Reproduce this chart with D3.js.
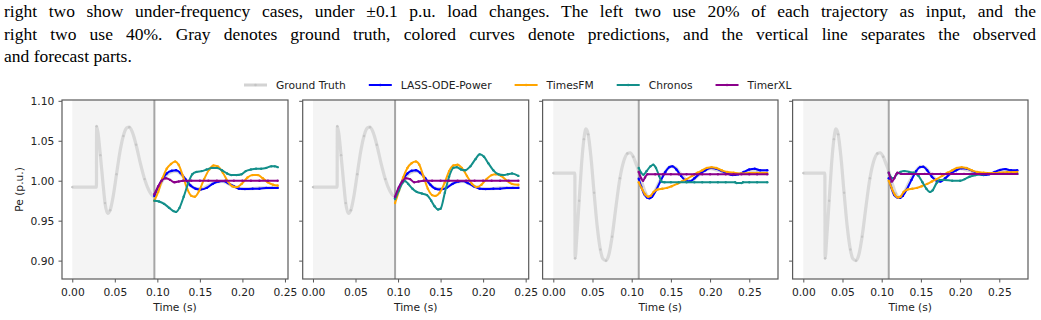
<!DOCTYPE html>
<html>
<head>
<meta charset="utf-8">
<script src="https://cdn.jsdelivr.net/npm/d3@7"></script>
<style>
body { margin: 0; background: #fff; }
svg { display: block; }
</style>
</head>
<body>
<script>
// caption text above the figure
var captionLines = [
	"right two show under-frequency cases, under \u00b10.1 p.u. load changes. The left two use 20% of each trajectory as input, and the",
	"right two use 40%. Gray denotes ground truth, colored curves denote predictions, and the vertical line separates the observed",
	"and forecast parts."
];

var seriesNames = ["Ground Truth", "LASS-ODE-Power", "TimesFM", "Chronos", "TimerXL"];
var seriesColors = ["#d3d3d3", "#0000ff", "#ffa500", "#138f8a", "#8b008b"];

var xTicks = [0.00, 0.05, 0.10, 0.15, 0.20, 0.25];
var yTicks = [0.90, 0.95, 1.00, 1.05, 1.10];

// observed / forecast split and last time of each panel
var splitTimes = [0.0965, 0.0965, 0.109, 0.109];
var endTimes = [0.2415, 0.2415, 0.273, 0.273];

// ground truth, over-frequency case (panels 1, 2)
var gtOver = [[0,0.992],[0.0284,0.992],[0.0286,1.068],[0.0305,1.058],[0.033,1.032],[0.036,0.998],[0.0385,0.972],
	[0.0415,0.959],[0.0445,0.963],[0.048,0.980],[0.052,1.008],[0.056,1.036],[0.060,1.056],[0.064,1.066],[0.067,1.067],
	[0.0705,1.061],[0.075,1.045],[0.080,1.022],[0.085,1.002],[0.090,0.988],[0.0965,0.980],[0.100,0.987],[0.105,0.998],
	[0.110,1.006],[0.116,1.011],[0.122,1.012],[0.128,1.008],[0.134,1.000],[0.140,0.993],[0.146,0.990],[0.152,0.990],
	[0.160,0.994],[0.168,0.998],[0.176,0.999],[0.184,0.996],[0.192,0.992],[0.200,0.990],[0.210,0.990],[0.220,0.991],
	[0.230,0.991],[0.2415,0.992]];

// ground truth, under-frequency case (panels 3, 4)
var gtUnder = [[0,1.0095],[0.0275,1.0095],[0.0278,0.903],[0.030,0.930],[0.033,0.975],[0.036,1.020],[0.039,1.052],
	[0.0417,1.065],[0.0445,1.058],[0.048,1.030],[0.052,0.985],[0.056,0.943],[0.060,0.914],[0.0635,0.902],[0.0672,0.900],
	[0.071,0.908],[0.075,0.930],[0.080,0.968],[0.085,1.003],[0.090,1.025],[0.0945,1.034],[0.098,1.035],[0.102,1.030],
	[0.106,1.020],[0.109,1.012],[0.113,0.998],[0.118,0.984],[0.1225,0.979],[0.128,0.984],[0.135,0.998],[0.142,1.010],
	[0.150,1.018],[0.156,1.016],[0.163,1.008],[0.170,1.001],[0.176,1.000],[0.184,1.006],[0.192,1.012],[0.200,1.015],
	[0.210,1.013],[0.220,1.010],[0.230,1.008],[0.240,1.009],[0.250,1.011],[0.260,1.012],[0.273,1.012]];

// panel 1
var lass1 = [[0.0965,0.981],[0.101,0.992],[0.106,1.002],[0.111,1.009],[0.117,1.0125],[0.122,1.013],[0.127,1.010],
	[0.133,1.002],[0.139,0.994],[0.145,0.990],[0.151,0.989],[0.158,0.991],[0.165,0.996],[0.172,0.999],[0.177,0.9995],
	[0.183,0.997],[0.190,0.993],[0.196,0.990],[0.203,0.9895],[0.212,0.990],[0.220,0.990],[0.228,0.991],[0.235,0.991],[0.2415,0.991]];
var timesfm1 = [[0.0965,0.975],[0.101,0.986],[0.106,1.003],[0.111,1.015],[0.116,1.021],[0.121,1.024],[0.125,1.020],
	[0.130,1.006],[0.135,0.990],[0.140,0.981],[0.144,0.980],[0.149,0.987],[0.155,1.002],[0.161,1.014],[0.166,1.019],
	[0.171,1.018],[0.177,1.010],[0.183,0.999],[0.188,0.993],[0.193,0.992],[0.199,0.996],[0.206,1.004],[0.212,1.007],
	[0.218,1.007],[0.224,1.003],[0.230,0.998],[0.236,0.995],[0.2415,0.994]];
var chronos1 = [[0.0965,0.975],[0.102,0.974],[0.108,0.971],[0.114,0.966],[0.119,0.962],[0.122,0.961],[0.126,0.966],
	[0.131,0.980],[0.136,0.996],[0.141,1.008],[0.146,1.011],[0.152,1.012],[0.158,1.014],[0.164,1.016],[0.170,1.016],
	[0.176,1.013],[0.182,1.009],[0.187,1.007],[0.193,1.007],[0.199,1.008],[0.204,1.012],[0.210,1.014],[0.216,1.015],
	[0.222,1.015],[0.228,1.016],[0.234,1.018],[0.238,1.018],[0.2415,1.017]];
var timerxl1 = [[0.0965,0.983],[0.101,0.993],[0.105,1.000],[0.110,1.003],[0.115,1.001],[0.120,0.998],[0.125,0.999],
	[0.130,1.000],[0.140,1.000],[0.150,1.000],[0.160,1.000],[0.170,1.000],[0.180,1.000],[0.190,1.000],[0.200,1.000],
	[0.210,1.000],[0.220,1.000],[0.230,1.000],[0.2415,1.000]];

// panel 2
var lass2 = [[0.0965,0.978],[0.101,0.991],[0.106,1.002],[0.111,1.009],[0.116,1.0125],[0.121,1.013],[0.126,1.010],
	[0.132,1.003],[0.138,0.995],[0.144,0.990],[0.150,0.989],[0.157,0.991],[0.164,0.996],[0.171,0.999],[0.176,0.9995],
	[0.182,0.997],[0.189,0.993],[0.196,0.990],[0.203,0.9895],[0.212,0.990],[0.220,0.990],[0.228,0.991],[0.235,0.991],[0.2415,0.991]];
var timesfm2 = [[0.0965,0.972],[0.101,0.987],[0.106,1.004],[0.111,1.016],[0.116,1.022],[0.121,1.024],[0.125,1.020],
	[0.130,1.005],[0.135,0.990],[0.140,0.982],[0.144,0.981],[0.149,0.985],[0.155,0.998],[0.160,1.012],[0.165,1.019],
	[0.170,1.020],[0.175,1.016],[0.181,1.006],[0.187,0.996],[0.192,0.992],[0.198,0.995],[0.204,1.002],[0.210,1.007],
	[0.215,1.008],[0.221,1.006],[0.228,1.000],[0.234,0.996],[0.2415,0.995]];
var chronos2 = [[0.0965,0.977],[0.101,0.988],[0.105,0.997],[0.108,0.9995],[0.112,0.996],[0.117,0.990],[0.122,0.986],
	[0.128,0.984],[0.134,0.982],[0.139,0.975],[0.143,0.968],[0.147,0.964],[0.150,0.965],[0.155,0.985],[0.160,1.005],
	[0.165,1.016],[0.169,1.017],[0.174,1.014],[0.179,1.013],[0.185,1.018],[0.191,1.027],[0.196,1.033],[0.201,1.030],
	[0.206,1.022],[0.212,1.013],[0.218,1.008],[0.224,1.007],[0.229,1.008],[0.234,1.009],[0.2415,1.006]];
var timerxl2 = [[0.0965,0.980],[0.101,0.992],[0.105,0.999],[0.109,1.003],[0.114,1.002],[0.119,0.998],[0.124,0.999],
	[0.130,1.000],[0.140,1.000],[0.150,1.000],[0.160,1.000],[0.170,1.000],[0.180,1.000],[0.190,1.000],[0.200,1.000],
	[0.210,1.000],[0.220,1.000],[0.230,1.000],[0.2415,1.000]];

// panel 3
var lass3 = [[0.109,1.0025],[0.112,0.993],[0.116,0.983],[0.1195,0.979],[0.1225,0.978],[0.126,0.980],[0.131,0.988],
	[0.137,1.000],[0.143,1.011],[0.148,1.017],[0.152,1.018],[0.157,1.014],[0.163,1.006],[0.169,1.000],[0.174,0.999],
	[0.180,1.003],[0.187,1.009],[0.194,1.013],[0.201,1.016],[0.208,1.015],[0.215,1.012],[0.222,1.009],[0.229,1.007],
	[0.236,1.008],[0.243,1.011],[0.250,1.014],[0.257,1.015],[0.264,1.013],[0.273,1.013]];
var timesfm3 = [[0.109,0.998],[0.113,0.990],[0.117,0.983],[0.121,0.980],[0.124,0.981],[0.128,0.986],[0.133,0.989],
	[0.139,0.990],[0.145,0.991],[0.151,0.993],[0.158,0.996],[0.164,0.999],[0.170,1.002],[0.177,1.006],[0.184,1.010],
	[0.190,1.013],[0.196,1.016],[0.202,1.017],[0.208,1.016],[0.215,1.013],[0.222,1.011],[0.230,1.010],[0.240,1.009],
	[0.250,1.0095],[0.260,1.0095],[0.273,1.0095]];
var chronos3 = [[0.109,1.016],[0.112,1.010],[0.115,1.0075],[0.119,1.012],[0.124,1.018],[0.1275,1.020],[0.131,1.016],
	[0.135,1.006],[0.138,0.999],[0.142,0.998],[0.150,0.998],[0.160,0.998],[0.170,0.998],[0.180,0.998],[0.190,0.998],
	[0.200,0.998],[0.210,0.998],[0.220,0.998],[0.232,0.998],[0.234,0.997],[0.240,0.997],[0.242,0.998],[0.250,0.998],
	[0.260,0.998],[0.273,0.998]];
var timerxl3 = [[0.109,1.011],[0.112,1.003],[0.1145,1.000],[0.117,1.004],[0.120,1.008],[0.130,1.008],[0.140,1.008],
	[0.150,1.008],[0.160,1.008],[0.170,1.008],[0.180,1.008],[0.190,1.008],[0.200,1.008],[0.210,1.008],[0.220,1.008],
	[0.230,1.008],[0.240,1.008],[0.250,1.008],[0.260,1.008],[0.273,1.008]];

// panel 4
var lass4 = [[0.109,1.003],[0.112,0.992],[0.116,0.982],[0.120,0.979],[0.1235,0.9785],[0.127,0.981],[0.132,0.989],
	[0.138,1.001],[0.144,1.012],[0.149,1.017],[0.153,1.0175],[0.158,1.013],[0.164,1.005],[0.170,1.000],[0.175,0.999],
	[0.181,1.003],[0.188,1.009],[0.195,1.013],[0.202,1.0155],[0.209,1.015],[0.216,1.012],[0.223,1.009],[0.230,1.007],
	[0.237,1.008],[0.244,1.011],[0.251,1.0135],[0.258,1.0145],[0.265,1.013],[0.273,1.013]];
var timesfm4 = [[0.109,1.000],[0.113,0.990],[0.117,0.982],[0.121,0.979],[0.124,0.980],[0.128,0.986],[0.133,0.989],
	[0.139,0.990],[0.145,0.991],[0.151,0.993],[0.158,0.996],[0.164,0.999],[0.170,1.002],[0.177,1.006],[0.184,1.010],
	[0.190,1.013],[0.196,1.016],[0.202,1.017],[0.208,1.016],[0.215,1.013],[0.222,1.011],[0.230,1.010],[0.240,1.0095],
	[0.250,1.010],[0.260,1.0105],[0.273,1.011]];
var chronos4 = [[0.109,1.010],[0.112,1.004],[0.115,1.003],[0.119,1.008],[0.124,1.011],[0.129,1.012],[0.135,1.011],
	[0.141,1.010],[0.147,1.006],[0.152,0.998],[0.157,0.990],[0.1615,0.986],[0.165,0.988],[0.170,0.997],[0.174,1.001],
	[0.180,1.001],[0.190,1.000],[0.200,1.000],[0.206,1.002],[0.212,1.005],[0.220,1.007],[0.230,1.008],[0.240,1.0085],
	[0.250,1.0085],[0.260,1.0085],[0.273,1.0085]];
var timerxl4 = [[0.109,1.010],[0.111,1.004],[0.113,0.999],[0.116,1.003],[0.120,1.010],[0.125,1.0085],[0.135,1.0085],
	[0.145,1.0085],[0.155,1.0085],[0.165,1.0085],[0.175,1.0085],[0.185,1.0085],[0.195,1.0085],[0.205,1.0085],
	[0.215,1.0085],[0.225,1.0085],[0.235,1.0085],[0.245,1.0085],[0.255,1.0085],[0.265,1.0085],[0.273,1.0085]];

var panels = [
	{ gt: gtOver, preds: [lass1, timesfm1, chronos1, timerxl1] },
	{ gt: gtOver, preds: [lass2, timesfm2, chronos2, timerxl2] },
	{ gt: gtUnder, preds: [lass3, timesfm3, chronos3, timerxl3] },
	{ gt: gtUnder, preds: [lass4, timesfm4, chronos4, timerxl4] }
];

var W = 1041, H = 320;
var tickFont = "DejaVu Sans, Verdana, sans-serif";
var fs = 10.7;

var svg = d3.select("body").append("svg")
		.attr("width", W)
		.attr("height", H);

//caption, justified like the paper
var capBase = [17, 40, 62];
captionLines.forEach(function(line, i) {
	var t = svg.append("text")
		.attr("x", 4)
		.attr("y", capBase[i])
		.attr("font-family", "Liberation Serif, Times New Roman, serif")
		.attr("font-size", 17.5)
		.attr("fill", "#000")
		.text(line);
	if (i < 2) {
		var natural = t.node().getComputedTextLength();
		var spaces = line.split(" ").length - 1;
		t.attr("word-spacing", (1032 - natural) / spaces);
	}
});

//legend
var legend = svg.append("g");
var lx = 244, ly = 85;
seriesNames.forEach(function(name, i) {
	legend.append("line")
		.attr("x1", lx).attr("x2", lx + 23)
		.attr("y1", ly).attr("y2", ly)
		.attr("stroke", seriesColors[i])
		.attr("stroke-width", i == 0 ? 3 : 2);
	legend.append("circle")
		.attr("cx", lx + 11.5).attr("cy", ly)
		.attr("r", 1.3)
		.attr("fill", i == 0 ? "#c4c4c4" : seriesColors[i]);
	var t = legend.append("text")
		.attr("x", lx + 32)
		.attr("y", ly)
		.attr("dy", "0.36em")
		.attr("font-family", tickFont)
		.attr("font-size", fs)
		.attr("fill", "#222")
		.text(name);
	lx += 32 + t.node().getComputedTextLength() + 23;
});

var panelLeft = [62, 302.7, 542.6, 792.6];
var panelRight = [288, 528.7, 778, 1028];
var axTop = 100, axBottom = 279;

var y = d3.scaleLinear()
	.domain([0.877, 1.101])
	.range([axBottom, axTop]);

panels.forEach(function(p, k) {
	var tMax = endTimes[k];
	var x = d3.scaleLinear()
		.domain([-0.05 * tMax, 1.05 * tMax])
		.range([panelLeft[k], panelRight[k]]);

	var g = svg.append("g");

	// observed window
	g.append("rect")
		.attr("x", x(0))
		.attr("y", axTop)
		.attr("width", x(splitTimes[k]) - x(0))
		.attr("height", axBottom - axTop)
		.attr("fill", "#f4f4f4");

	var line = d3.line()
		.x(function(d) { return x(d[0]); })
		.y(function(d) { return y(d[1]); })
		.curve(d3.curveMonotoneX);

	g.append("path")
		.datum(p.gt)
		.attr("d", line)
		.attr("fill", "none")
		.attr("stroke", seriesColors[0])
		.attr("stroke-width", 3.2)
		.attr("stroke-linejoin", "round")
		.attr("opacity", 0.85);
	g.selectAll(".gtdot")
		.data(p.gt.filter(function(d, j) { return j % 2 == 0; }))
		.enter().append("circle")
		.attr("cx", function(d) { return x(d[0]); })
		.attr("cy", function(d) { return y(d[1]); })
		.attr("r", 1.2)
		.attr("fill", "#c6c6c6");

	// split line
	g.append("line")
		.attr("x1", x(splitTimes[k])).attr("x2", x(splitTimes[k]))
		.attr("y1", axTop).attr("y2", axBottom)
		.attr("stroke", "#a6a6a6")
		.attr("stroke-width", 2);

	p.preds.forEach(function(s, i) {
		g.append("path")
			.datum(s)
			.attr("d", line)
			.attr("fill", "none")
			.attr("stroke", seriesColors[i + 1])
			.attr("stroke-width", 2)
			.attr("stroke-linejoin", "round");
		g.selectAll(".dot" + i)
			.data(s)
			.enter().append("circle")
			.attr("cx", function(d) { return x(d[0]); })
			.attr("cy", function(d) { return y(d[1]); })
			.attr("r", 1.2)
			.attr("fill", seriesColors[i + 1]);
	});

	// x axis
	var xa = g.append("g")
		.attr("transform", "translate(0," + axBottom + ")")
		.call(d3.axisBottom(x).tickValues(xTicks).tickFormat(d3.format(".2f")).tickSize(3.5).tickPadding(6));
	xa.select(".domain").remove();
	xa.selectAll("line").attr("stroke", "#555");
	xa.selectAll("text").attr("font-family", tickFont).attr("font-size", fs).attr("fill", "#222");

	// y axis
	var ya = g.append("g")
		.attr("transform", "translate(" + panelLeft[k] + ",0)")
		.call(d3.axisLeft(y).tickValues(yTicks).tickFormat(k == 0 ? d3.format(".2f") : "").tickSize(3.5).tickPadding(4.2));
	ya.select(".domain").remove();
	ya.selectAll("line").attr("stroke", "#555");
	ya.selectAll("text").attr("font-family", tickFont).attr("font-size", fs).attr("fill", "#222");

	// spines
	g.append("rect")
		.attr("x", panelLeft[k])
		.attr("y", axTop)
		.attr("width", panelRight[k] - panelLeft[k])
		.attr("height", axBottom - axTop)
		.attr("fill", "none")
		.attr("stroke", "#5a5a5a")
		.attr("stroke-width", 1.2);

	g.append("text")
		.attr("x", (panelLeft[k] + panelRight[k]) / 2)
		.attr("y", 311)
		.attr("text-anchor", "middle")
		.attr("font-family", tickFont)
		.attr("font-size", fs)
		.attr("fill", "#222")
		.text("Time (s)");
});

svg.append("text")
	.attr("transform", "translate(23," + (axTop + axBottom) / 2 + ") rotate(-90)")
	.attr("text-anchor", "middle")
	.attr("font-family", tickFont)
	.attr("font-size", fs)
	.attr("fill", "#222")
	.text("Pe (p.u.)");
</script>
</body>
</html>
